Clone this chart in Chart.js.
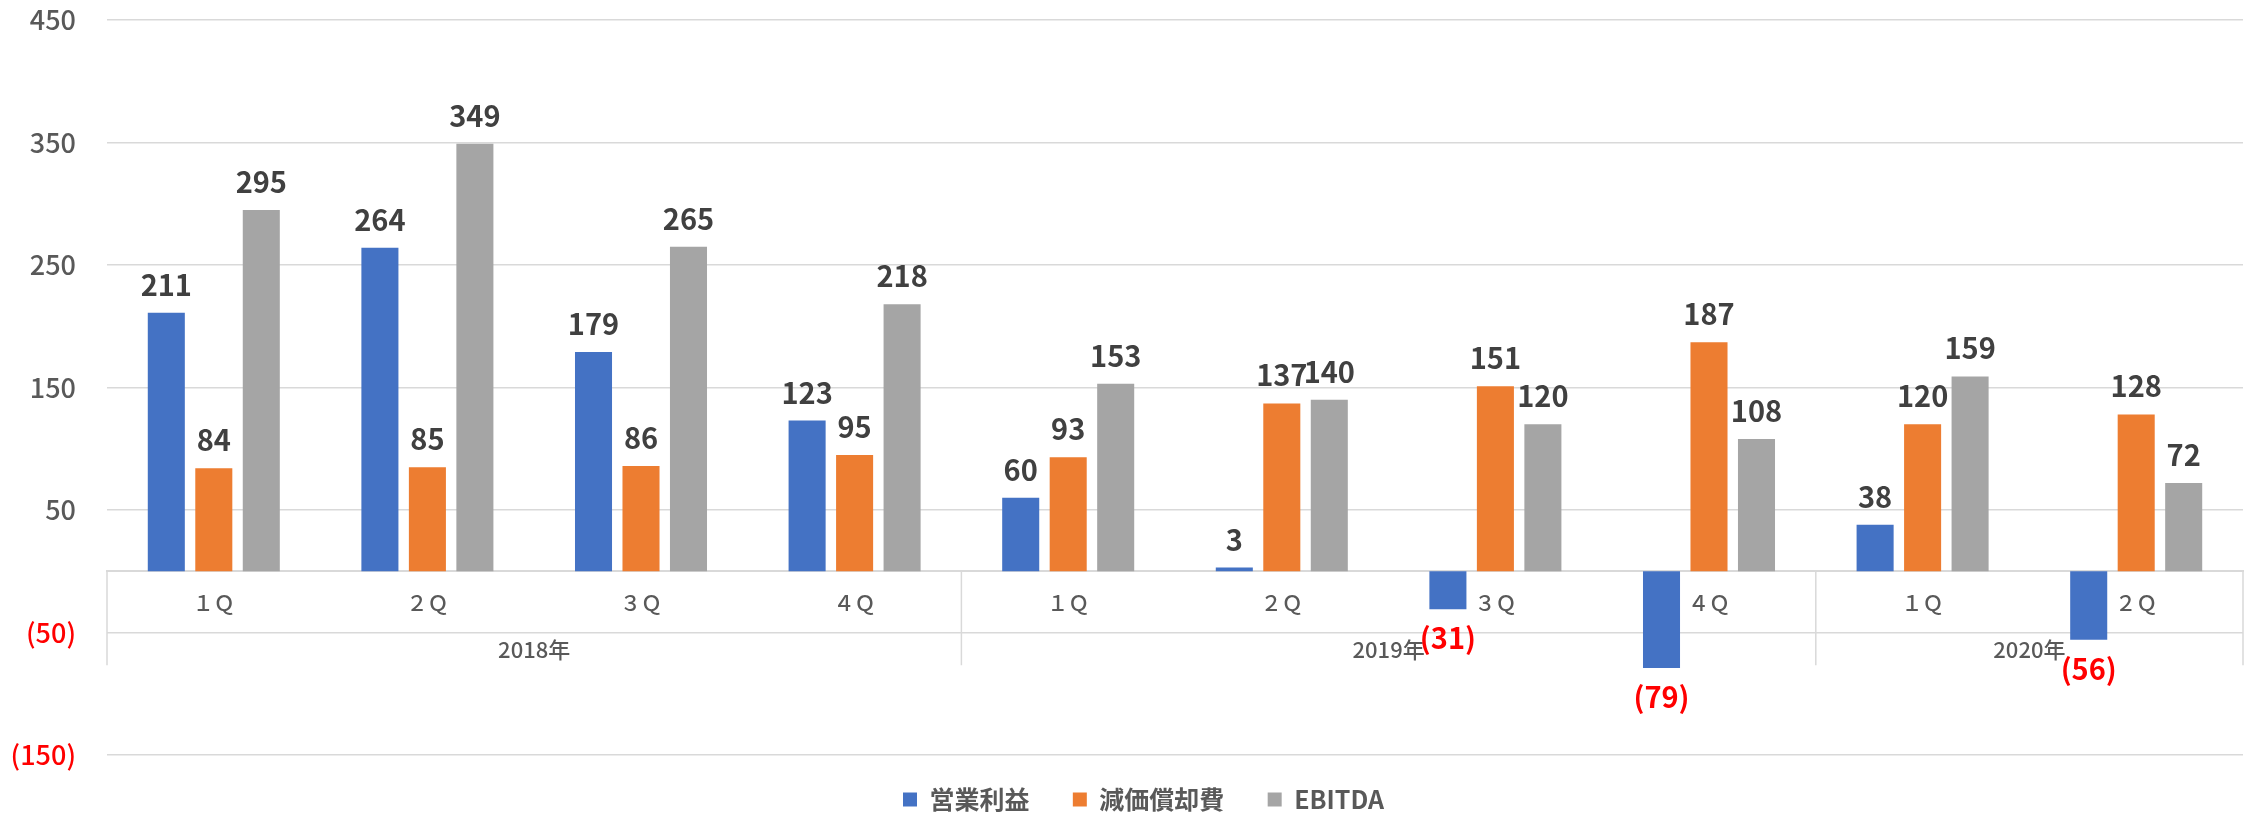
<!DOCTYPE html>
<html lang="ja">
<head>
<meta charset="utf-8">
<title>営業利益・減価償却費・EBITDA</title>
<script src="https://cdn.jsdelivr.net/npm/chart.js@4.4.0/dist/chart.umd.min.js"></script>
<style>
  html, body { margin: 0; padding: 0; background: #fff; }
  #wrap { width: 2247px; height: 818px; position: relative; }
</style>
</head>
<body>
<div id="wrap"><canvas id="ebitdaChart"></canvas></div>
<script>
// first row of the category axis, one per bar group
const quarterLabels = ['１Ｑ', '２Ｑ', '３Ｑ', '４Ｑ', '１Ｑ', '２Ｑ', '３Ｑ', '４Ｑ', '１Ｑ', '２Ｑ'];
// second row: year and how many quarters it covers
const yearLabels = ['2018年', '2019年', '2020年'];
const yearSpans = [4, 4, 2];

const seriesNames = ['営業利益', '減価償却費', 'EBITDA'];
const operatingProfit = [211, 264, 179, 123, 60, 3, -31, -79, 38, -56];
const depreciation = [84, 85, 86, 95, 93, 137, 151, 187, 120, 128];
const ebitda = [295, 349, 265, 218, 153, 140, 120, 108, 159, 72];

const yTicks = [-150, -50, 50, 150, 250, 350, 450];

const FONT = '"Noto Sans CJK JP", "Noto Sans", sans-serif';
Chart.defaults.font.family = FONT;

// negative numbers shown in brackets, like the source sheet
const fmt = v => v < 0 ? '(' + Math.abs(v) + ')' : String(v);

const valueLabels = {
    id: 'valueLabels',
    afterDatasetsDraw(chart) {
        const ctx = chart.ctx;
        ctx.save();
        ctx.font = 'bold 29px ' + FONT;
        ctx.textAlign = 'center';
        ctx.textBaseline = 'middle';
        chart.data.datasets.forEach((ds, i) => {
            chart.getDatasetMeta(i).data.forEach((bar, j) => {
                const v = ds.data[j];
                ctx.fillStyle = v < 0 ? '#ff0000' : '#404040';
                ctx.fillText(fmt(v), bar.x, v < 0 ? bar.y + 29 : bar.y - 28);
            });
        });
        ctx.restore();
    }
};

// year row under the quarter labels, with the boxed separators
const yearAxis = {
    id: 'yearAxis',
    afterLayout(chart) {
        // legend sits centred on the plot rather than the whole canvas
        chart.legend.left += 44;
    },
    beforeDatasetsDraw(chart) {
        const x = chart.scales.x;
        const top = chart.scales.y.getPixelForValue(0);
        const bottom = top + 94;
        const edges = [x.left];
        let idx = 0;
        yearSpans.forEach(n => {
            idx += n;
            edges.push(idx >= quarterLabels.length
                ? x.right
                : (x.getPixelForValue(idx - 1) + x.getPixelForValue(idx)) / 2);
        });

        const ctx = chart.ctx;
        ctx.save();
        ctx.strokeStyle = '#d9d9d9';
        ctx.lineWidth = 1.5;
        edges.forEach(e => {
            ctx.beginPath();
            ctx.moveTo(e, top);
            ctx.lineTo(e, bottom);
            ctx.stroke();
        });
        ctx.font = '500 22px ' + FONT;
        ctx.fillStyle = '#595959';
        ctx.textAlign = 'center';
        ctx.textBaseline = 'middle';
        yearLabels.forEach((t, k) => {
            ctx.fillText(t, (edges[k] + edges[k + 1]) / 2, top + 78);
        });
        ctx.restore();
    }
};

const ctx = document.getElementById('ebitdaChart');

new Chart(ctx, {
    type: 'bar',
    data: {
        labels: quarterLabels,
        datasets: [
            { label: seriesNames[0], data: operatingProfit, backgroundColor: '#4472c4', borderWidth: 0 },
            { label: seriesNames[1], data: depreciation, backgroundColor: '#ed7d31', borderWidth: 0 },
            { label: seriesNames[2], data: ebitda, backgroundColor: '#a5a5a5', borderWidth: 0 }
        ]
    },
    options: {
        responsive: true,
        maintainAspectRatio: false,
        animation: false,
        devicePixelRatio: 1,
        layout: { padding: { top: 0, left: 0, right: 4, bottom: -4 } },
        datasets: {
            bar: { categoryPercentage: 0.667, barPercentage: 0.78 }
        },
        plugins: {
            legend: {
                position: 'bottom',
                labels: {
                    font: { size: 25, weight: 'bold' },
                    color: '#595959',
                    boxWidth: 14,
                    boxHeight: 14,
                    padding: 32,
                    generateLabels(chart) {
                        const items = Chart.defaults.plugins.legend.labels.generateLabels(chart);
                        items.forEach((it, i) => {
                            if (i < items.length - 1) it.text += '  ';
                        });
                        return items;
                    }
                }
            },
            tooltip: { enabled: false }
        },
        scales: {
            x: {
                position: { y: 0 },
                grid: { display: false, drawTicks: false },
                border: { display: true, color: '#d9d9d9', width: 2 },
                ticks: {
                    font: { size: 21, weight: '500' },
                    color: '#595959',
                    padding: 19,
                    autoSkip: false,
                    maxRotation: 0
                }
            },
            y: {
                min: yTicks[0],
                max: yTicks[yTicks.length - 1],
                afterBuildTicks(scale) {
                    scale.ticks = yTicks.map(v => ({ value: v }));
                },
                afterFit(scale) {
                    scale.width = 107;
                    scale.paddingTop = 20;
                    scale.paddingBottom = 0;
                },
                grid: { color: '#d9d9d9', lineWidth: 1.5, drawTicks: false },
                border: { display: false },
                ticks: {
                    font: { size: 27, weight: '500' },
                    color: c => c.tick.value < 0 ? '#ff0000' : '#595959',
                    padding: 31,
                    callback: v => fmt(v)
                }
            }
        }
    },
    plugins: [yearAxis, valueLabels]
});
</script>
</body>
</html>
